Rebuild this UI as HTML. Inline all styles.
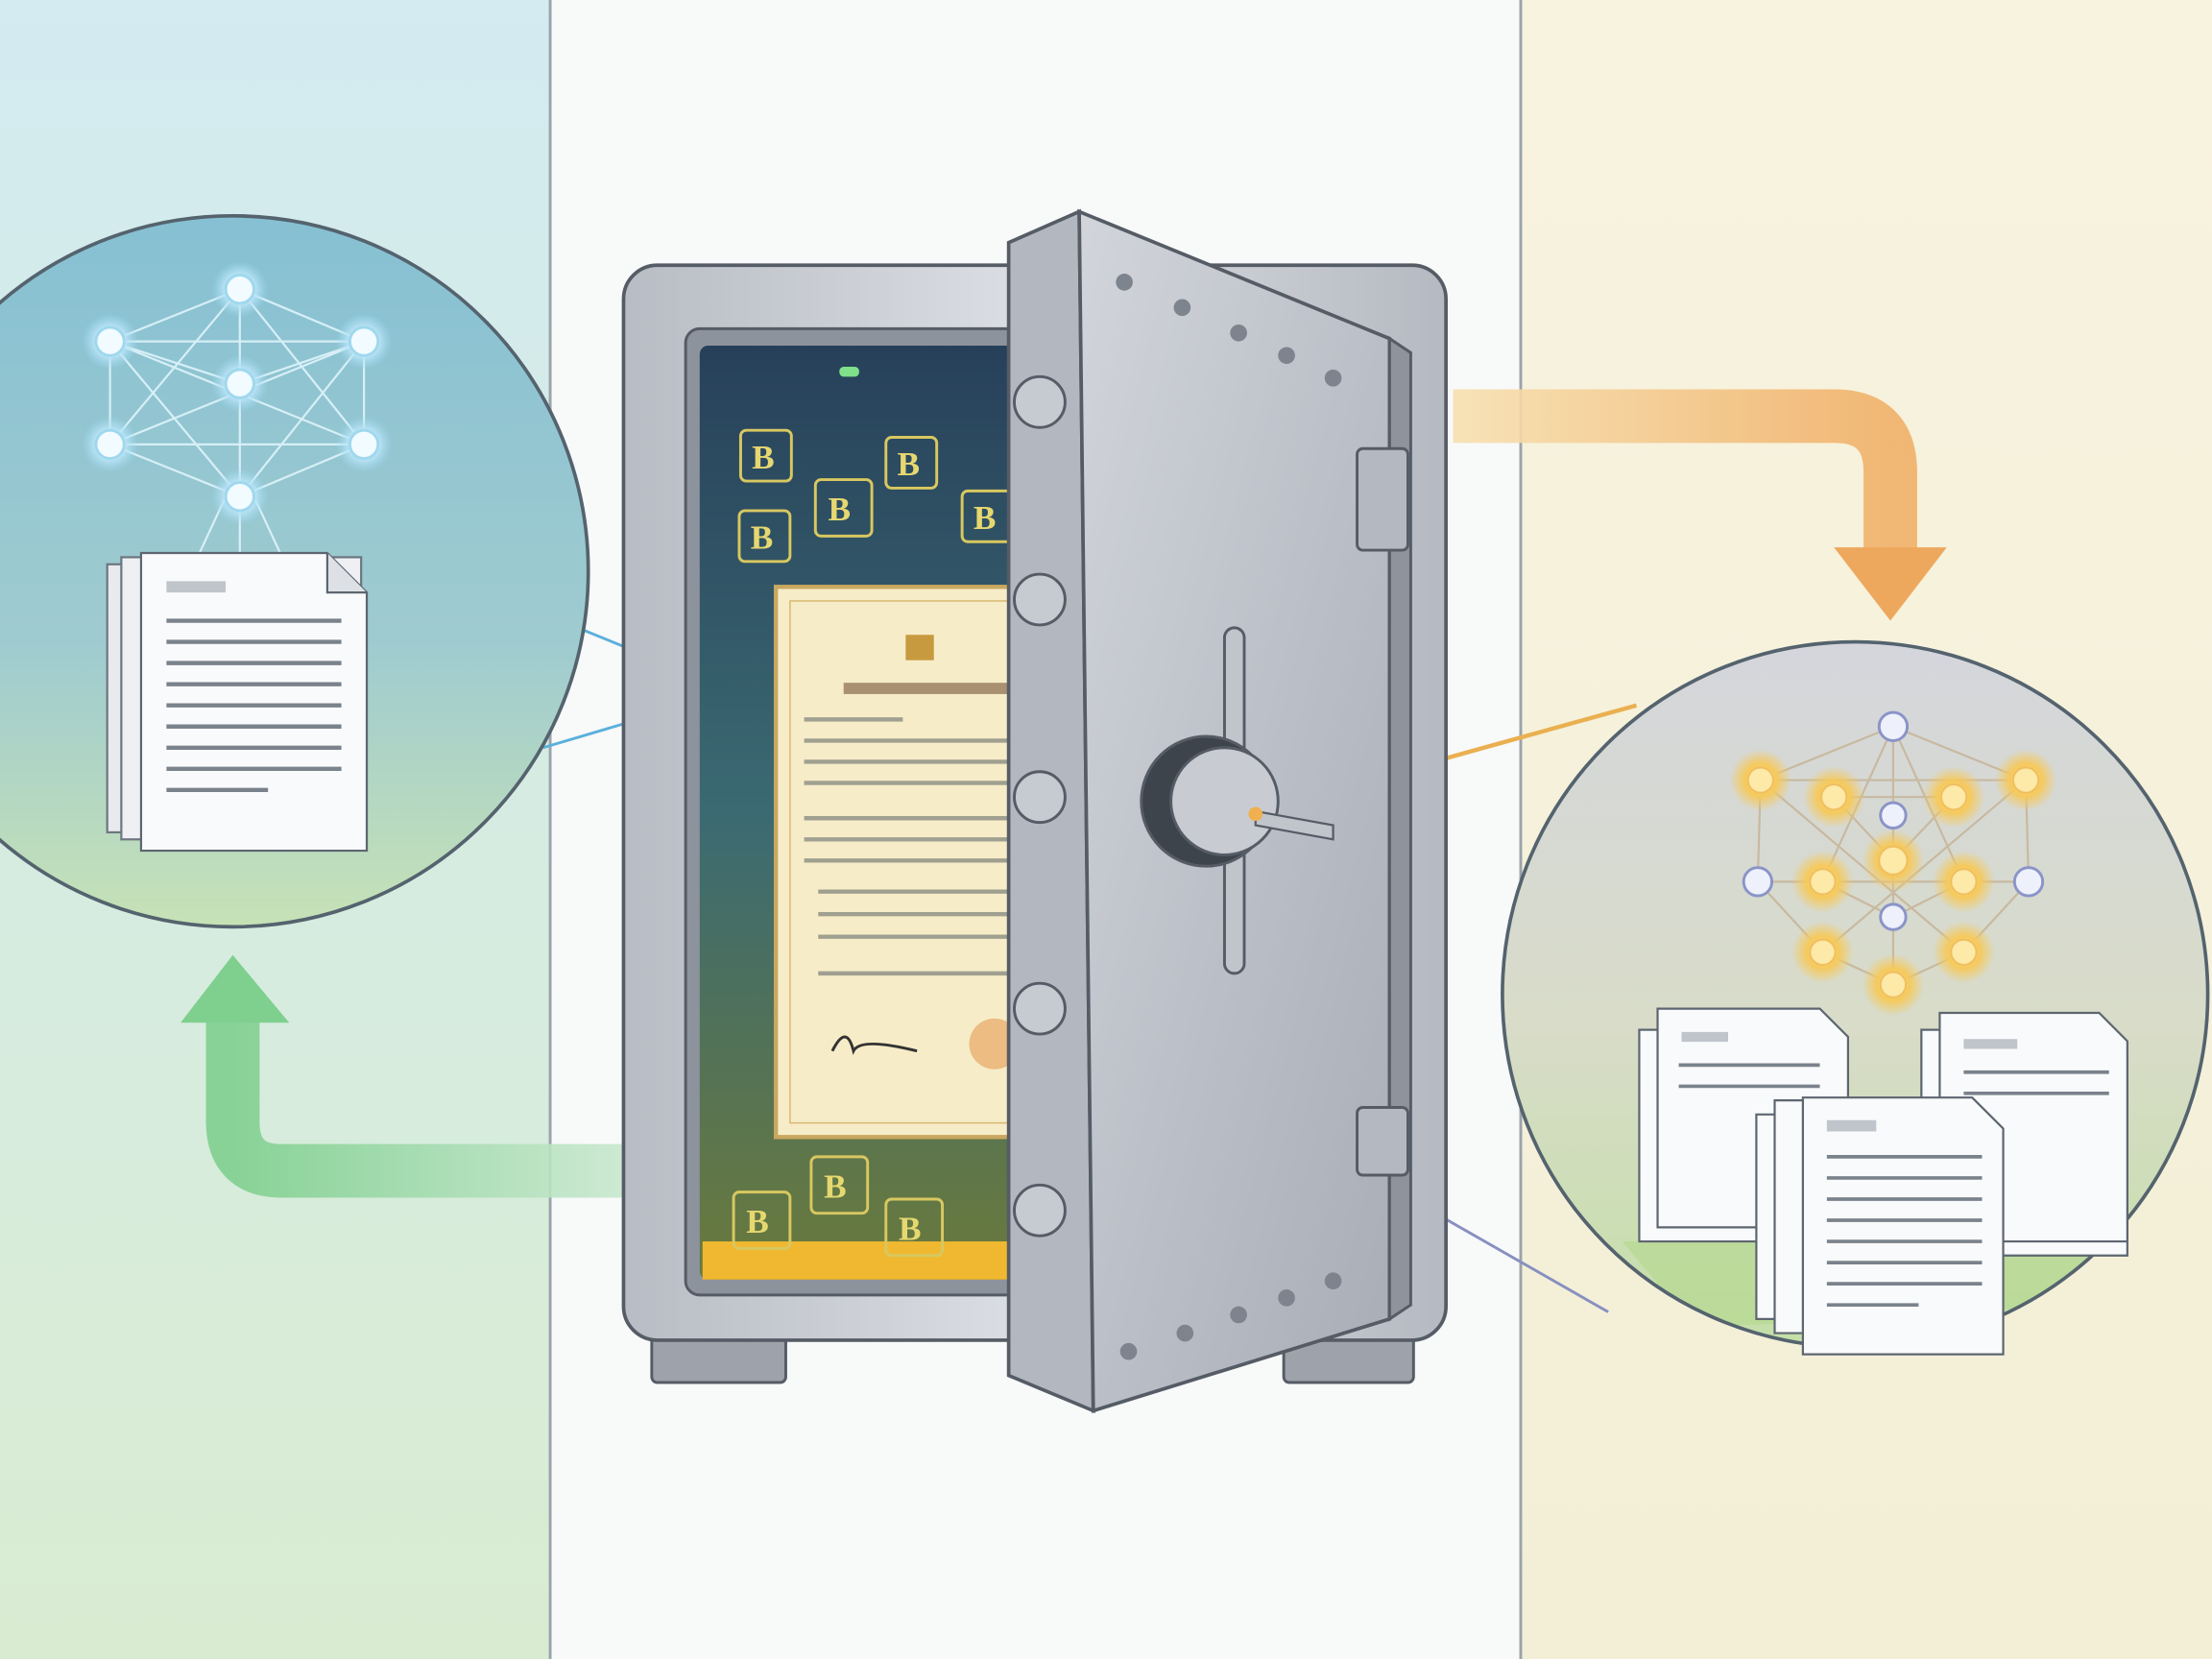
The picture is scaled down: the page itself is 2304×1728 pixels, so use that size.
<!DOCTYPE html>
<html><head><meta charset="utf-8"><style>html,body{margin:0;padding:0;background:#fff}svg{display:block}</style></head>
<body>
<svg width="2304" height="1728" viewBox="0 0 1568 1176" xmlns="http://www.w3.org/2000/svg">
<defs>
<linearGradient id="lp" x1="0" y1="0" x2="0" y2="1"><stop offset="0" stop-color="#d3ebf1"/><stop offset="1" stop-color="#d9ecd2"/></linearGradient>
<linearGradient id="rp" x1="0" y1="0" x2="0" y2="1"><stop offset="0" stop-color="#f8f3df"/><stop offset="1" stop-color="#f3efd6"/></linearGradient>
<linearGradient id="lc" x1="0" y1="0" x2="0" y2="1"><stop offset="0" stop-color="#86c0d2"/><stop offset="0.6" stop-color="#9fcbd0"/><stop offset="1" stop-color="#c6e2b6"/></linearGradient>
<linearGradient id="rc" x1="0" y1="0" x2="0" y2="1"><stop offset="0" stop-color="#d5d6dc"/><stop offset="0.55" stop-color="#d8dcc8"/><stop offset="1" stop-color="#c4dfa8"/></linearGradient>
<linearGradient id="body" x1="0" y1="0" x2="1" y2="0"><stop offset="0" stop-color="#b8bcc4"/><stop offset="0.5" stop-color="#dcdfe4"/><stop offset="1" stop-color="#b5b9c1"/></linearGradient>
<linearGradient id="door" x1="0" y1="0" x2="1" y2="1"><stop offset="0" stop-color="#d2d5db"/><stop offset="0.5" stop-color="#bcc0c8"/><stop offset="1" stop-color="#a8adb6"/></linearGradient>
<linearGradient id="inner" x1="0" y1="0" x2="0" y2="1"><stop offset="0" stop-color="#27405a"/><stop offset="0.5" stop-color="#3b6a72"/><stop offset="1" stop-color="#6a7a3c"/></linearGradient>
<linearGradient id="ga" x1="0" y1="0" x2="1" y2="0"><stop offset="0" stop-color="#7fcf8f"/><stop offset="1" stop-color="#c9e8cf"/></linearGradient>
<linearGradient id="oa" x1="0" y1="0" x2="1" y2="0"><stop offset="0" stop-color="#f7e0b0"/><stop offset="1" stop-color="#f0b068"/></linearGradient>
<radialGradient id="glowY"><stop offset="0" stop-color="#fff6c8"/><stop offset="0.5" stop-color="#f6c95a"/><stop offset="1" stop-color="#f6c95a" stop-opacity="0"/></radialGradient>
<radialGradient id="glowB"><stop offset="0" stop-color="#ffffff"/><stop offset="0.5" stop-color="#bfe6f7"/><stop offset="1" stop-color="#9fdcf5" stop-opacity="0"/></radialGradient>
<clipPath id="rcc"><circle cx="1315" cy="705" r="249"/></clipPath>
</defs>
<rect x="0" y="0" width="390" height="1176" fill="url(#lp)"/>
<rect x="390" y="0" width="688" height="1176" fill="#f8f9f9"/>
<rect x="1078" y="0" width="490" height="1176" fill="url(#rp)"/>
<line x1="390" y1="0" x2="390" y2="1176" stroke="#9aa4ac" stroke-width="2"/>
<line x1="1078" y1="0" x2="1078" y2="1176" stroke="#9aa4ac" stroke-width="2"/>

<path d="M445 830 H200 Q165 830 165 795 V715" fill="none" stroke="url(#ga)" stroke-width="38" opacity="0.9"/>
<polygon points="128,725 165,677 205,725" fill="#7fcf8f"/>
<path d="M1030 295 H1300 Q1340 295 1340 335 V395" fill="none" stroke="url(#oa)" stroke-width="38" opacity="0.9"/>
<polygon points="1300,388 1340,440 1380,388" fill="#eea85e"/>

<line x1="385" y1="435" x2="520" y2="490" stroke="#5ab0dc" stroke-width="2"/>
<line x1="385" y1="530" x2="520" y2="490" stroke="#5ab0dc" stroke-width="2"/>
<line x1="890" y1="575" x2="1160" y2="500" stroke="#eab050" stroke-width="3"/>
<line x1="1000" y1="850" x2="1140" y2="930" stroke="#8890c0" stroke-width="2"/>

<circle cx="165" cy="405" r="252" fill="url(#lc)" stroke="#54636e" stroke-width="2.5"/>
<g stroke="#dff4fb" stroke-width="1.5" fill="none" opacity="0.9">
<path d="M170 205 L78 242 L78 315 L170 352 L258 315 L258 242 Z"/>
<path d="M170 205 L170 352 M78 242 L258 315 M258 242 L78 315 M170 205 L78 315 M170 205 L258 315 M78 242 L170 352 M258 242 L170 352 M78 242 L258 242 M78 315 L258 315 M170 272 L78 242 M170 272 L258 242"/>
<path d="M170 352 V395 M160 352 L140 395 M180 352 L200 395"/>
</g>
<g fill="url(#glowB)">
<circle cx="170" cy="205" r="20"/><circle cx="78" cy="242" r="20"/><circle cx="258" cy="242" r="20"/><circle cx="170" cy="272" r="20"/><circle cx="78" cy="315" r="20"/><circle cx="258" cy="315" r="20"/><circle cx="170" cy="352" r="20"/>
</g>
<g fill="#f2fbff" stroke="#9fd8ee" stroke-width="2">
<circle cx="170" cy="205" r="10"/><circle cx="78" cy="242" r="10"/><circle cx="258" cy="242" r="10"/><circle cx="170" cy="272" r="10"/><circle cx="78" cy="315" r="10"/><circle cx="258" cy="315" r="10"/><circle cx="170" cy="352" r="10"/>
</g>
<rect x="76" y="400" width="170" height="190" fill="#e8eaee" stroke="#6d7680" stroke-width="1.5"/>
<rect x="86" y="395" width="170" height="200" fill="#eef0f3" stroke="#6d7680" stroke-width="1.5"/>
<path d="M100 392 H232 L260 420 V603 H100 Z" fill="#f9fafb" stroke="#5d6670" stroke-width="1.5"/>
<path d="M232 392 V420 H260" fill="#dde0e5" stroke="#5d6670" stroke-width="1.5"/>
<g stroke="#7a828c" stroke-width="3"><line x1="118" y1="416" x2="160" y2="416" stroke-width="8" stroke="#c0c5cc"/>
<line x1="118" y1="440" x2="242" y2="440"/><line x1="118" y1="455" x2="242" y2="455"/><line x1="118" y1="470" x2="242" y2="470"/><line x1="118" y1="485" x2="242" y2="485"/><line x1="118" y1="500" x2="242" y2="500"/><line x1="118" y1="515" x2="242" y2="515"/><line x1="118" y1="530" x2="242" y2="530"/><line x1="118" y1="545" x2="242" y2="545"/><line x1="118" y1="560" x2="190" y2="560"/></g>

<circle cx="1315" cy="705" r="250" fill="url(#rc)"/>
<polygon clip-path="url(#rcc)" points="1150,880 1540,870 1520,900 1400,935 1200,940" fill="#b7d892" opacity="0.7"/>
<circle cx="1315" cy="705" r="250" fill="none" stroke="#54636e" stroke-width="2.5"/>
<g stroke="#c8b9a0" stroke-width="1.5" fill="none">
<path d="M1342 515 L1248 553 L1246 625 L1292 675 L1342 698 L1392 675 L1438 625 L1436 553 Z"/>
<path d="M1342 515 L1342 698 M1248 553 L1436 553 M1246 625 L1438 625 M1248 553 L1392 675 M1436 553 L1292 675 M1342 515 L1292 625 M1342 515 L1392 625 M1300 565 L1385 565 M1300 565 L1342 610 L1385 565 M1292 625 L1342 650 L1392 625"/>
</g>
<g fill="url(#glowY)">
<circle cx="1248" cy="553" r="22"/><circle cx="1300" cy="565" r="22"/><circle cx="1385" cy="565" r="22"/><circle cx="1436" cy="553" r="22"/><circle cx="1342" cy="610" r="22"/><circle cx="1292" cy="625" r="22"/><circle cx="1392" cy="625" r="22"/><circle cx="1292" cy="675" r="22"/><circle cx="1392" cy="675" r="22"/><circle cx="1342" cy="698" r="22"/>
</g>
<g fill="#fde9a8" stroke="#f0c060" stroke-width="1.5">
<circle cx="1300" cy="565" r="9"/><circle cx="1385" cy="565" r="9"/><circle cx="1342" cy="610" r="10"/><circle cx="1292" cy="625" r="9"/><circle cx="1392" cy="625" r="9"/><circle cx="1292" cy="675" r="9"/><circle cx="1392" cy="675" r="9"/><circle cx="1342" cy="698" r="9"/><circle cx="1248" cy="553" r="9"/><circle cx="1436" cy="553" r="9"/>
</g>
<g fill="#eef0fb" stroke="#8a94c8" stroke-width="2">
<circle cx="1342" cy="515" r="10"/><circle cx="1246" cy="625" r="10"/><circle cx="1438" cy="625" r="10"/><circle cx="1342" cy="578" r="9"/><circle cx="1342" cy="650" r="9"/>
</g>
<g fill="#f9fafb" stroke="#5d6670" stroke-width="1.5">
<path d="M1162 730 H1290 L1310 750 V880 H1162 Z"/><path d="M1175 715 H1290 L1310 735 V870 H1175 Z"/>
<path d="M1362 730 H1490 L1508 748 V890 H1362 Z"/><path d="M1375 718 H1488 L1508 738 V880 H1375 Z"/>
<path d="M1245 790 H1380 L1400 810 V935 H1245 Z"/><path d="M1258 780 H1390 L1410 800 V945 H1258 Z"/>
<path d="M1278 778 H1398 L1420 800 V960 H1278 Z"/>
</g>
<g stroke="#7a828c" stroke-width="2.5">
<line x1="1295" y1="798" x2="1330" y2="798" stroke="#c0c5cc" stroke-width="8"/>
<line x1="1295" y1="820" x2="1405" y2="820"/><line x1="1295" y1="835" x2="1405" y2="835"/><line x1="1295" y1="850" x2="1405" y2="850"/><line x1="1295" y1="865" x2="1405" y2="865"/><line x1="1295" y1="880" x2="1405" y2="880"/><line x1="1295" y1="895" x2="1405" y2="895"/><line x1="1295" y1="910" x2="1405" y2="910"/><line x1="1295" y1="925" x2="1360" y2="925"/>
<line x1="1192" y1="735" x2="1225" y2="735" stroke="#c0c5cc" stroke-width="7"/>
<line x1="1392" y1="740" x2="1430" y2="740" stroke="#c0c5cc" stroke-width="7"/>
<line x1="1392" y1="760" x2="1495" y2="760"/><line x1="1392" y1="775" x2="1495" y2="775"/>
<line x1="1190" y1="755" x2="1290" y2="755"/><line x1="1190" y1="770" x2="1290" y2="770"/>
</g>

<rect x="462" y="940" width="95" height="40" rx="4" fill="#9ea3ab" stroke="#555c66" stroke-width="2"/>
<rect x="910" y="940" width="92" height="40" rx="4" fill="#9ea3ab" stroke="#555c66" stroke-width="2"/>
<rect x="442" y="188" width="583" height="762" rx="24" fill="url(#body)" stroke="#555c66" stroke-width="2.5"/>
<rect x="486" y="233" width="240" height="685" rx="10" fill="#8d939c" stroke="#555c66" stroke-width="2"/>
<rect x="496" y="245" width="225" height="662" rx="6" fill="url(#inner)"/>
<rect x="498" y="880" width="222" height="27" fill="#f0b830"/>
<rect x="595" y="260" width="14" height="7" rx="3" fill="#7ee08a"/>
<g fill="none" stroke="#d8c860" stroke-width="2">
<rect x="525" y="305" width="36" height="36" rx="4"/><rect x="578" y="340" width="40" height="40" rx="4"/><rect x="628" y="310" width="36" height="36" rx="4"/><rect x="524" y="362" width="36" height="36" rx="4"/><rect x="682" y="348" width="36" height="36" rx="4"/>
<rect x="575" y="820" width="40" height="40" rx="4"/><rect x="520" y="845" width="40" height="40" rx="4"/><rect x="628" y="850" width="40" height="40" rx="4"/>
</g>
<g fill="#e6d870" font-family="Liberation Serif, serif" font-size="24" font-weight="bold">
<text x="533" y="332">B</text><text x="587" y="369">B</text><text x="636" y="337">B</text><text x="532" y="389">B</text><text x="690" y="375">B</text><text x="584" y="849">B</text><text x="529" y="874">B</text><text x="637" y="879">B</text>
</g>
<rect x="550" y="416" width="172" height="390" fill="#f7ecc8" stroke="#c9a860" stroke-width="3"/>
<rect x="560" y="426" width="162" height="370" fill="none" stroke="#d8b870" stroke-width="1"/>
<rect x="642" y="450" width="20" height="18" fill="#c89a40"/>
<rect x="598" y="484" width="120" height="8" fill="#a89070"/>
<g stroke="#a0a090" stroke-width="3">
<line x1="570" y1="510" x2="640" y2="510"/><line x1="570" y1="525" x2="715" y2="525"/><line x1="570" y1="540" x2="715" y2="540"/><line x1="570" y1="555" x2="715" y2="555"/><line x1="570" y1="580" x2="715" y2="580"/><line x1="570" y1="595" x2="715" y2="595"/><line x1="570" y1="610" x2="715" y2="610"/><line x1="580" y1="632" x2="715" y2="632"/><line x1="580" y1="648" x2="715" y2="648"/><line x1="580" y1="664" x2="715" y2="664"/><line x1="580" y1="690" x2="715" y2="690"/>
</g>
<path d="M590 745 q10 -20 15 0 q5 -10 45 0" stroke="#333" stroke-width="2" fill="none"/>
<circle cx="705" cy="740" r="18" fill="#e8b070" opacity="0.8"/>

<polygon points="715,172 765,150 775,1000 715,975" fill="#b3b8c0" stroke="#555c66" stroke-width="2.5"/>
<polygon points="765,150 985,240 985,935 775,1000" fill="url(#door)" stroke="#555c66" stroke-width="2.5"/>
<polygon points="985,240 1000,250 1000,925 985,935" fill="#8e939c" stroke="#555c66" stroke-width="2"/>
<rect x="962" y="318" width="36" height="72" rx="4" fill="#b4b8c0" stroke="#555c66" stroke-width="2"/>
<rect x="962" y="785" width="36" height="48" rx="4" fill="#b4b8c0" stroke="#555c66" stroke-width="2"/>
<g fill="#c6cad1" stroke="#555c66" stroke-width="2">
<circle cx="737" cy="285" r="18"/><circle cx="737" cy="425" r="18"/><circle cx="737" cy="565" r="18"/><circle cx="737" cy="715" r="18"/><circle cx="737" cy="858" r="18"/>
</g>
<g fill="#7e848e">
<circle cx="797" cy="200" r="6"/><circle cx="838" cy="218" r="6"/><circle cx="878" cy="236" r="6"/><circle cx="912" cy="252" r="6"/><circle cx="945" cy="268" r="6"/>
<circle cx="800" cy="958" r="6"/><circle cx="840" cy="945" r="6"/><circle cx="878" cy="932" r="6"/><circle cx="912" cy="920" r="6"/><circle cx="945" cy="908" r="6"/>
</g>
<rect x="868" y="445" width="14" height="245" rx="7" fill="#c0c4cb" stroke="#555c66" stroke-width="2"/>
<circle cx="855" cy="568" r="46" fill="#3e444c" stroke="#555c66" stroke-width="2"/>
<circle cx="868" cy="568" r="38" fill="#c8ccd2" stroke="#555c66" stroke-width="2"/>
<path d="M890 575 L945 585 L945 595 L890 585 Z" fill="#c0c4cb" stroke="#555c66" stroke-width="1.5"/>
<circle cx="890" cy="577" r="5" fill="#f0b050"/>
</svg>
</body></html>
